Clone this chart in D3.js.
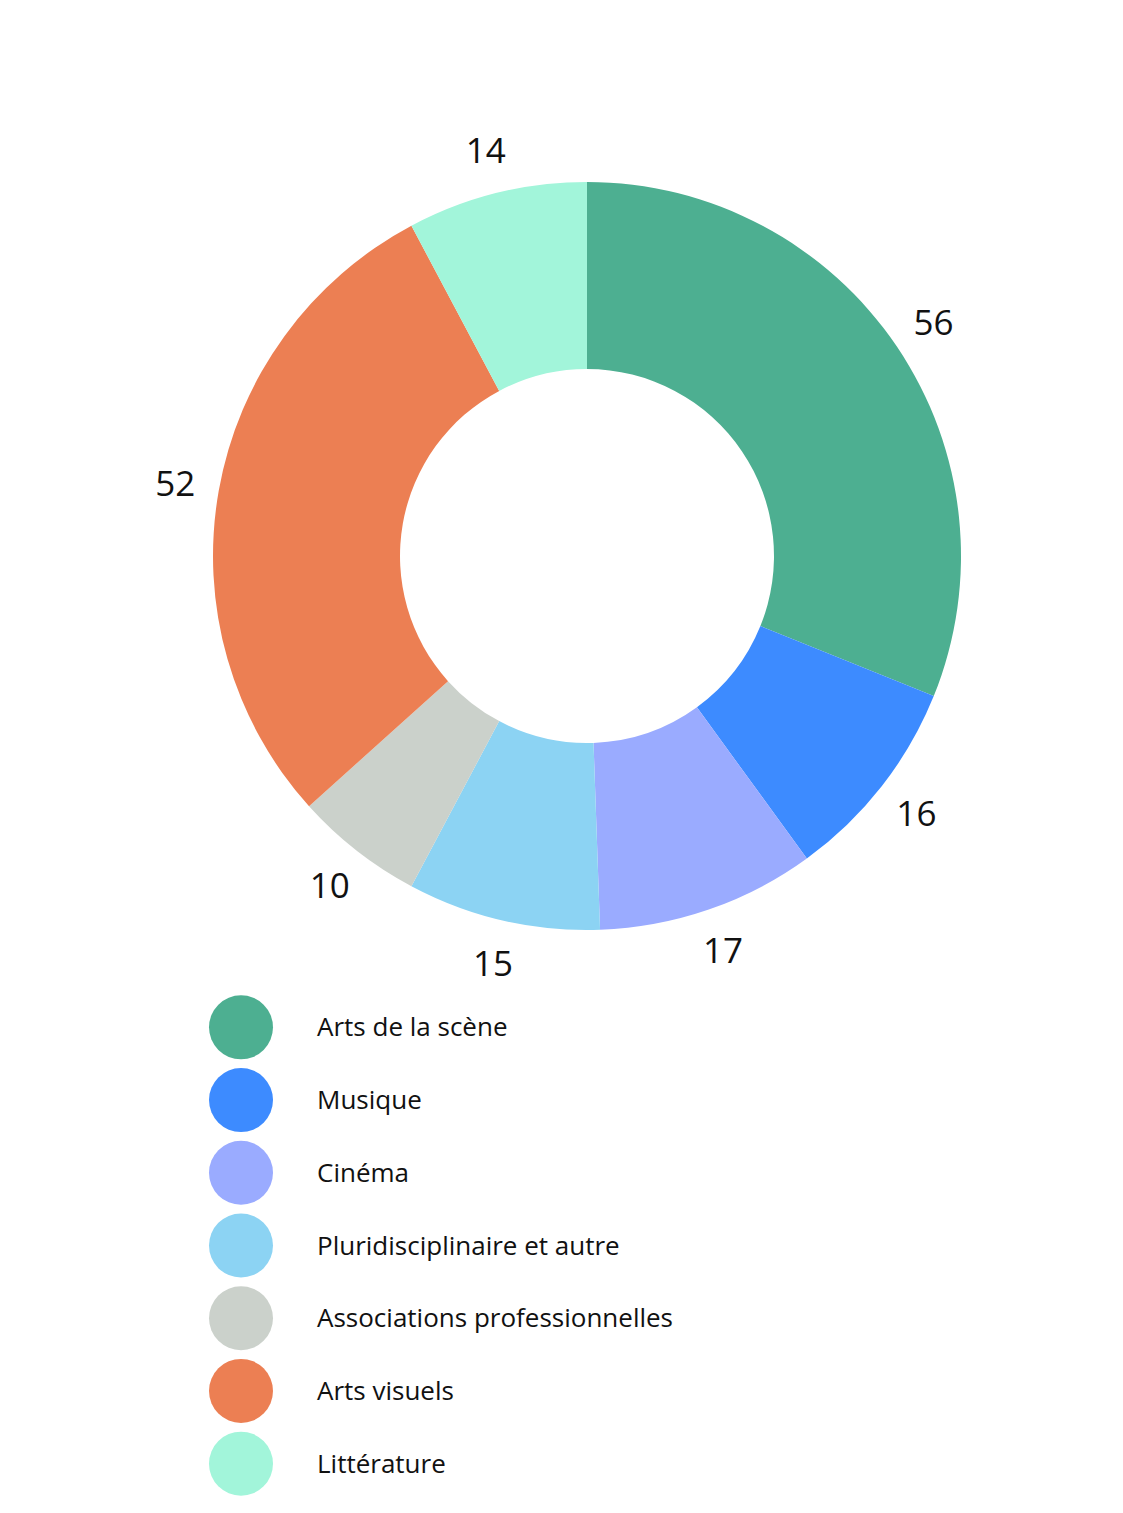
<!DOCTYPE html>
<html>
<head>
<meta charset="utf-8">
<script src="https://cdn.jsdelivr.net/npm/d3@7"></script>
<style>
body { margin: 0; background: #fff; }
text { font-family: "Open Sans", sans-serif; fill: #111; }
</style>
</head>
<body>
<svg id="chart" width="1123" height="1513"></svg>
<script>
var categories = ["Arts de la scène", "Musique", "Cinéma", "Pluridisciplinaire et autre",
	"Associations professionnelles", "Arts visuels", "Littérature"];
var values = [56, 16, 17, 15, 10, 52, 14];
var colors = ["#4daf91", "#3d8bff", "#9aabff", "#8cd3f3", "#cbd1cb", "#ec7f53", "#a2f5da"];

var svg = d3.select("#chart"),
	cx = 587, cy = 556,
	outer = 374, inner = 187, labelR = 418;

var pie = d3.pie().sort(null).value(function(d) { return d; });
var arc = d3.arc().innerRadius(inner).outerRadius(outer);
var labelArc = d3.arc().innerRadius(labelR).outerRadius(labelR);

var g = svg.append("g").attr("transform", "translate(" + cx + "," + cy + ")");
var arcs = pie(values);

g.selectAll("path").data(arcs).enter().append("path")
	.attr("d", arc)
	.attr("fill", function(d, i) { return colors[i]; });

g.selectAll("text.val").data(arcs).enter().append("text")
	.attr("class", "val")
	.attr("transform", function(d) { return "translate(" + labelArc.centroid(d) + ")"; })
	.attr("text-anchor", "middle")
	.attr("dy", "0.35em")
	.style("font-size", "35px")
	.text(function(d) { return d.data; });

// legend
var y = d3.scaleBand().domain(categories).range([991, 1500]);
var legend = svg.selectAll("g.leg").data(categories).enter().append("g")
	.attr("class", "leg")
	.attr("transform", function(d) { return "translate(0," + (y(d) + y.bandwidth() / 2) + ")"; });
legend.append("circle").attr("cx", 241).attr("r", 32)
	.attr("fill", function(d, i) { return colors[i]; });
legend.append("text").attr("x", 317).attr("dy", "0.35em")
	.style("font-size", "26px")
	.text(function(d) { return d; });
</script>
</body>
</html>
